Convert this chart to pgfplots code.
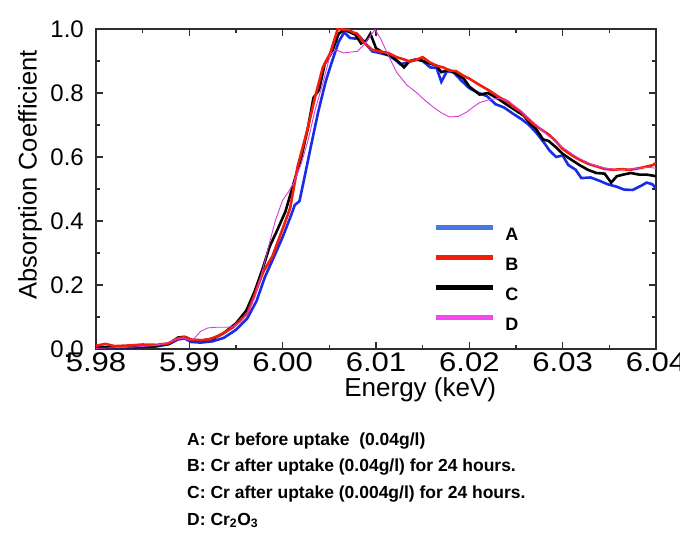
\documentclass[border=0pt]{standalone}
\usepackage{fontspec}
\setmainfont{Liberation Sans}
\usepackage{pgfplots}
\pgfplotsset{compat=1.18}
\definecolor{cA}{RGB}{25,45,230}
\definecolor{cAleg}{RGB}{70,120,230}
\definecolor{cB}{RGB}{240,30,12}
\definecolor{cC}{RGB}{0,0,0}
\definecolor{cD}{RGB}{215,60,215}
\definecolor{cDleg}{RGB}{245,70,240}
\definecolor{axc}{RGB}{45,45,45}
\begin{document}
\begin{tikzpicture}[x=1pt,y=1pt]
\useasboundingbox (0,0) rectangle (680,536);
\begin{axis}[
  at={(96pt,187pt)}, anchor=south west,
  width=560pt, height=320pt, scale only axis,
  xmin=5.98, xmax=6.04, ymin=0, ymax=1,
  xtick={5.98,5.99,6.00,6.01,6.02,6.03,6.04},
  minor xtick={5.985,5.995,6.005,6.015,6.025,6.035},
  ytick={0,0.2,0.4,0.6,0.8,1.0},
  minor ytick={0.1,0.3,0.5,0.7,0.9},
  scaled x ticks=false, scaled y ticks=false,
  tick align=inside,
  major tick length=7pt, minor tick length=4pt,
  every tick/.style={axc, line width=1.2pt},
  axis line style={axc, line width=1.3pt},
  /pgf/number format/assume math mode=true,
  xticklabel style={/pgf/number format/.cd, fixed, fixed zerofill, precision=2, /tikz/.cd,
     font=\fontsize{27}{27}\selectfont, inner sep=0pt, yshift=-3pt, xscale=1.15},
  yticklabel style={/pgf/number format/.cd, fixed, fixed zerofill, precision=1, /tikz/.cd,
     font=\fontsize{24}{24}\selectfont, inner sep=0pt, xshift=-12pt},
  xlabel={Energy (keV)},
  ylabel={Absorption Coefficient},
  xlabel style={at={(axis description cs:0.579,0)}, anchor=center, yshift=-41pt,
     font=\fontsize{26}{26}\selectfont},
  ylabel style={at={(axis description cs:-0.118,0.544)}, anchor=center,
     font=\fontsize{25.5}{25.5}\selectfont},
  legend style={at={(axis description cs:0.602,0.389)}, anchor=north west,
     draw=none, fill=none, inner sep=0pt, row sep=14.7pt, column sep=10pt,
     font=\bfseries\fontsize{18}{18}\selectfont,
     nodes={inner sep=0pt, text height=13pt, text depth=0pt}},
  legend cell align=left,
  legend image code/.code={\draw[#1] (0pt,6.5pt) -- (57pt,6.5pt);},
]
% A (blue)
\addplot[cA, line width=2.6pt, forget plot] coordinates {
(5.9800,0.005) (5.9815,0.006) (5.9830,0.005) (5.9850,0.007) (5.9865,0.008)
(5.9878,0.015) (5.9888,0.030) (5.9895,0.033) (5.9902,0.022) (5.9912,0.020)
(5.9925,0.024) (5.9937,0.035) (5.9950,0.060) (5.9962,0.095) (5.9972,0.150)
(5.9981,0.225) (5.9991,0.290) (6.0000,0.350) (6.0008,0.410) (6.0013,0.450)
(6.0018,0.462) (6.0024,0.545) (6.0030,0.630) (6.0038,0.740) (6.0046,0.835)
(6.0053,0.900) (6.0060,0.960) (6.0066,0.990) (6.0072,0.972) (6.0078,0.970)
(6.0083,0.975) (6.0090,0.950) (6.0096,0.930) (6.0104,0.925) (6.0113,0.918)
(6.0120,0.905) (6.0126,0.890) (6.0134,0.895) (6.0142,0.905) (6.0150,0.900)
(6.0158,0.880) (6.0165,0.878) (6.0170,0.835) (6.0176,0.868) (6.0183,0.865)
(6.0191,0.840) (6.0200,0.815) (6.0210,0.800) (6.0219,0.790) (6.0228,0.765)
(6.0237,0.755) (6.0247,0.735) (6.0256,0.718) (6.0264,0.700) (6.0272,0.675)
(6.0280,0.645) (6.0286,0.620) (6.0293,0.600) (6.0300,0.605) (6.0306,0.575)
(6.0314,0.560) (6.0320,0.534) (6.0330,0.536) (6.0340,0.525) (6.0348,0.515)
(6.0357,0.508) (6.0366,0.498) (6.0375,0.497) (6.0384,0.510) (6.0390,0.520)
(6.0396,0.515) (6.0400,0.502)
};
% C (black)
\addplot[cC, line width=2.6pt, forget plot] coordinates {
(5.9800,0.004) (5.9820,0.006) (5.9840,0.006) (5.9860,0.008) (5.9878,0.016)
(5.9888,0.036) (5.9895,0.038) (5.9903,0.028) (5.9915,0.027) (5.9926,0.033)
(5.9937,0.050) (5.9950,0.080) (5.9961,0.120) (5.9970,0.180) (5.9979,0.255)
(5.9986,0.320) (5.9994,0.370) (6.0003,0.430) (6.0012,0.520) (6.0020,0.600)
(6.0027,0.690) (6.0033,0.785) (6.0039,0.810) (6.0045,0.890) (6.0053,0.930)
(6.0060,0.985) (6.0066,0.998) (6.0072,0.990) (6.0078,0.982) (6.0084,0.955)
(6.0090,0.965) (6.0094,0.985) (6.0100,0.940) (6.0108,0.925) (6.0117,0.915)
(6.0125,0.895) (6.0130,0.880) (6.0136,0.900) (6.0146,0.905) (6.0155,0.895)
(6.0165,0.885) (6.0170,0.865) (6.0178,0.872) (6.0186,0.860) (6.0194,0.845)
(6.0200,0.820) (6.0211,0.795) (6.0220,0.800) (6.0226,0.790) (6.0233,0.778)
(6.0242,0.760) (6.0250,0.745) (6.0258,0.730) (6.0265,0.705) (6.0271,0.690)
(6.0279,0.655) (6.0285,0.650) (6.0293,0.630) (6.0300,0.610) (6.0310,0.590)
(6.0318,0.575) (6.0327,0.560) (6.0336,0.550) (6.0345,0.548) (6.0352,0.520)
(6.0358,0.540) (6.0365,0.545) (6.0373,0.550) (6.0382,0.545) (6.0390,0.545)
(6.0400,0.540)
};
% B (red)
\addplot[cB, line width=2.6pt, forget plot] coordinates {
(5.9800,0.010) (5.9810,0.016) (5.9820,0.009) (5.9835,0.011) (5.9850,0.014)
(5.9865,0.013) (5.9878,0.018) (5.9888,0.034) (5.9895,0.037) (5.9902,0.029)
(5.9912,0.027) (5.9922,0.031) (5.9933,0.043) (5.9947,0.068) (5.9962,0.110)
(5.9970,0.170) (5.9979,0.240) (5.9989,0.290) (5.9998,0.360) (6.0008,0.440)
(6.0016,0.570) (6.0026,0.680) (6.0035,0.790) (6.0043,0.880) (6.0051,0.925)
(6.0059,1.000) (6.0067,0.998) (6.0072,0.995) (6.0075,0.990) (6.0080,0.985)
(6.0086,0.960) (6.0096,0.935) (6.0104,0.930) (6.0113,0.925) (6.0122,0.912)
(6.0130,0.905) (6.0136,0.898) (6.0144,0.905) (6.0150,0.912) (6.0158,0.895)
(6.0165,0.885) (6.0172,0.880) (6.0179,0.870) (6.0186,0.868) (6.0193,0.855)
(6.0200,0.845) (6.0211,0.825) (6.0220,0.810) (6.0233,0.785) (6.0240,0.775)
(6.0247,0.757) (6.0255,0.742) (6.0262,0.720) (6.0270,0.700) (6.0276,0.688)
(6.0286,0.668) (6.0293,0.648) (6.0300,0.625) (6.0310,0.605) (6.0319,0.590)
(6.0328,0.578) (6.0337,0.570) (6.0345,0.563) (6.0354,0.560) (6.0363,0.562)
(6.0372,0.560) (6.0382,0.565) (6.0390,0.570) (6.0397,0.575) (6.0400,0.582)
};
% D (magenta)
\addplot[cD, line width=0.9pt, forget plot] coordinates {
(5.9800,0.002) (5.9820,0.004) (5.9840,0.006) (5.9860,0.010) (5.9875,0.018)
(5.9885,0.030) (5.9893,0.034) (5.9900,0.028) (5.9905,0.032) (5.9912,0.055)
(5.9920,0.066) (5.9930,0.068) (5.9940,0.068) (5.9948,0.070) (5.9955,0.085)
(5.9962,0.110) (5.9970,0.160) (5.9977,0.230) (5.9984,0.310) (5.9992,0.400)
(6.0000,0.465) (6.0006,0.490) (6.0012,0.520) (6.0020,0.580) (6.0027,0.650)
(6.0035,0.750) (6.0043,0.830) (6.0051,0.920) (6.0057,0.935) (6.0065,0.925)
(6.0073,0.928) (6.0080,0.930) (6.0087,0.950) (6.0093,0.975) (6.0099,0.998)
(6.0105,0.970) (6.0112,0.925) (6.0122,0.865) (6.0133,0.825) (6.0144,0.800)
(6.0152,0.778) (6.0161,0.757) (6.0170,0.738) (6.0179,0.725) (6.0188,0.727)
(6.0197,0.740) (6.0205,0.758) (6.0211,0.770) (6.0222,0.780) (6.0232,0.783)
(6.0242,0.775) (6.0255,0.745) (6.0270,0.705) (6.0285,0.665) (6.0300,0.630)
(6.0315,0.600) (6.0330,0.578) (6.0345,0.565) (6.0360,0.560) (6.0375,0.563)
(6.0390,0.568) (6.0400,0.565)
};
\addlegendimage{cAleg, line width=5pt}
\addlegendentry{A}
\addlegendimage{cB, line width=5pt}
\addlegendentry{B}
\addlegendimage{cC, line width=5pt}
\addlegendentry{C}
\addlegendimage{cDleg, line width=5pt}
\addlegendentry{D}
\end{axis}
\begin{scope}[every node/.style={anchor=base west, inner sep=0pt, font=\bfseries\fontsize{17.5}{20}\selectfont}]
\node at (187,91) {A: Cr before uptake\ \ (0.04g/l)};
\node at (187,64.3) {B: Cr after uptake (0.04g/l) for 24 hours.};
\node at (187,37.6) {C: Cr after uptake (0.004g/l) for 24 hours.};
\node at (187,11) {D: Cr\textsubscript{2}O\textsubscript{3}};
\end{scope}
\end{tikzpicture}
\end{document}
